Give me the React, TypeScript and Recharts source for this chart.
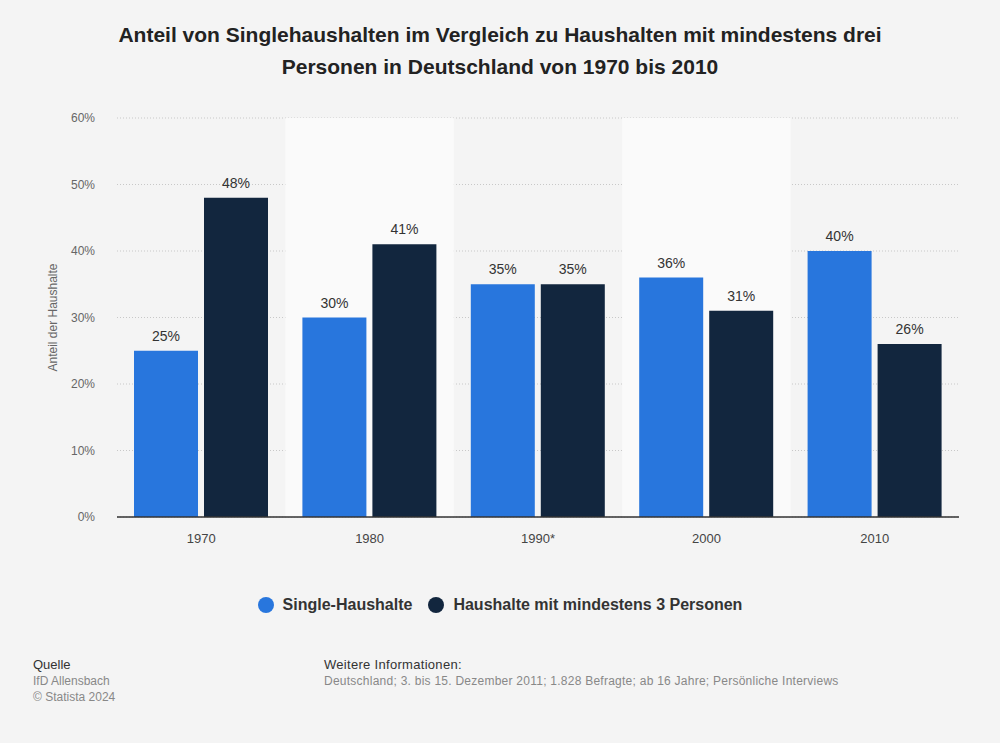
import React from 'react';
import {
    BarChart,
    Bar,
    XAxis,
    YAxis,
    CartesianGrid,
    ReferenceArea,
    LabelList,
    Label
} from 'recharts';

const years = ['1970', '1980', '1990*', '2000', '2010'];
const singleShare = [25, 30, 35, 36, 40];
const largeShare = [48, 41, 35, 31, 26];
const yTicks = [0, 10, 20, 30, 40, 50, 60];
const shadedYears = ['1980', '2000'];

const SINGLE_COLOR = '#2876dd';
const LARGE_COLOR = '#12263e';
const FONT = '"Liberation Sans", Arial, Helvetica, sans-serif';

const data = years.map((year, i) => ({
    year,
    single: singleShare[i],
    large: largeShare[i]
}));

const App: React.FC = () => {
    return (
        <div
            style={{
                position: 'absolute',
                top: 0,
                left: 0,
                width: 1000,
                height: 743,
                background: '#f4f4f4',
                fontFamily: FONT,
                overflow: 'hidden'
            }}
        >
            {/* title */}
            <div
                style={{
                    position: 'absolute',
                    top: 19,
                    left: 0,
                    width: 1000,
                    textAlign: 'center',
                    fontSize: 21,
                    fontWeight: 700,
                    lineHeight: '32px',
                    color: '#222'
                }}
            >
                Anteil von Singlehaushalten im Vergleich zu Haushalten mit mindestens drei
                <br />
                Personen in Deutschland von 1970 bis 2010
            </div>

            <div style={{ position: 'absolute', top: 0, left: 0 }}>
                <BarChart
                    width={1000}
                    height={560}
                    data={data}
                    margin={{ top: 118, right: 41, left: 57, bottom: 13 }}
                    barCategoryGap={17}
                    barGap={6}
                >
                    {shadedYears.map(y => (
                        <ReferenceArea
                            key={y}
                            x1={y}
                            x2={y}
                            y1={0}
                            y2={60}
                            fill="#fafafa"
                            fillOpacity={1}
                            stroke="none"
                            ifOverflow="extendDomain"
                        />
                    ))}
                    <CartesianGrid vertical={false} stroke="#c8c8c8" strokeDasharray="1 2" />
                    <XAxis
                        dataKey="year"
                        tickLine={false}
                        axisLine={{ stroke: '#333', strokeWidth: 1.5 }}
                        tick={{ fill: '#444', fontSize: 13, fontFamily: FONT }}
                        tickMargin={11}
                        height={30}
                    />
                    <YAxis
                        domain={[0, 60]}
                        ticks={yTicks}
                        tickFormatter={(v: number) => `${v}%`}
                        tickLine={false}
                        axisLine={false}
                        tick={{ fill: '#666', fontSize: 12, fontFamily: FONT }}
                        tickMargin={16}
                        width={60}
                    >
                        <Label
                            value="Anteil der Haushalte"
                            angle={-90}
                            position="insideLeft"
                            offset={-4}
                            style={{ fill: '#666', fontSize: 12, fontFamily: FONT, textAnchor: 'middle' }}
                        />
                    </YAxis>
                    <Bar dataKey="single" name="Single-Haushalte" fill={SINGLE_COLOR} isAnimationActive={false}>
                        <LabelList
                            dataKey="single"
                            position="top"
                            offset={10}
                            formatter={(v: number) => `${v}%`}
                            style={{ fill: '#333', fontSize: 14, fontFamily: FONT }}
                        />
                    </Bar>
                    <Bar dataKey="large" name="Haushalte mit mindestens 3 Personen" fill={LARGE_COLOR} isAnimationActive={false}>
                        <LabelList
                            dataKey="large"
                            position="top"
                            offset={10}
                            formatter={(v: number) => `${v}%`}
                            style={{ fill: '#333', fontSize: 14, fontFamily: FONT }}
                        />
                    </Bar>
                </BarChart>
            </div>

            {/* legend */}
            <div
                style={{
                    position: 'absolute',
                    top: 594,
                    left: 0,
                    width: 1000,
                    display: 'flex',
                    justifyContent: 'center',
                    gap: 16,
                    fontSize: 16,
                    fontWeight: 700,
                    color: '#333',
                    lineHeight: '22px'
                }}
            >
                {[
                    { name: 'Single-Haushalte', color: SINGLE_COLOR },
                    { name: 'Haushalte mit mindestens 3 Personen', color: LARGE_COLOR }
                ].map(item => (
                    <div key={item.name} style={{ display: 'flex', alignItems: 'center' }}>
                        <span
                            style={{
                                display: 'inline-block',
                                width: 16,
                                height: 16,
                                borderRadius: 8,
                                background: item.color,
                                marginRight: 9
                            }}
                        />
                        {item.name}
                    </div>
                ))}
            </div>

            {/* footer */}
            <div style={{ position: 'absolute', top: 657, left: 33, fontSize: 12, lineHeight: '16px' }}>
                <div style={{ color: '#333', fontSize: 13 }}>Quelle</div>
                <div style={{ color: '#888' }}>IfD Allensbach</div>
                <div style={{ color: '#888' }}>© Statista 2024</div>
            </div>
            <div style={{ position: 'absolute', top: 657, left: 324, fontSize: 12, lineHeight: '16px' }}>
                <div style={{ color: '#333', fontSize: 13, letterSpacing: 0.3 }}>Weitere Informationen:</div>
                <div style={{ color: '#888', letterSpacing: 0.25 }}>
                    Deutschland; 3. bis 15. Dezember 2011; 1.828 Befragte; ab 16 Jahre; Persönliche Interviews
                </div>
            </div>
        </div>
    );
};

export default App;
